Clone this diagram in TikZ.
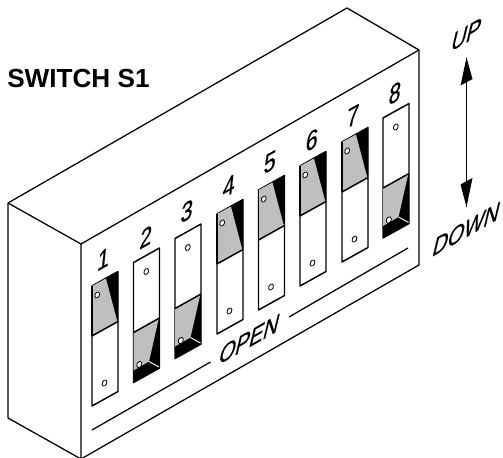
\documentclass[tikz,border=0pt]{standalone}
\usepackage{fontspec}
\setmainfont{Liberation Sans}
\newfontfamily\isofont[FakeBold=0.5]{Liberation Sans}
\tikzset{
  px/.style={x=0.75pt,y=-0.75pt},
  edge/.style={line width=0.95pt,line join=round},
  swface/.style={draw=black,line width=1.1pt,fill=white,line join=round},
  hole/.style={draw=black,line width=0.6pt,fill=white},
  isotext/.style={font=\isofont\fontsize{16.5}{16.5}\selectfont,inner sep=0pt,cm={0.95,0.54,0.3,1.25,(0,0)}},
  numtext/.style={font=\isofont\fontsize{18}{18}\selectfont,inner sep=0pt,cm={0.9,0.5,0.12,1.15,(0,0)}},
}
\definecolor{lever}{gray}{0.75}
\newcommand{\swup}[2]{
  \begin{scope}[shift={(#1,#2)}]
    \draw[swface] (0,0) -- (26,-14.5) -- (26,105.5) -- (0,120) -- cycle;
    \fill[black] (0,0) -- (26,-14.5) -- (26,35.5) -- cycle;
    \fill[lever] (0,0) -- (14,-7.5) -- (25.3,35.5) -- (0,50) -- cycle;
    \draw[line width=1.1pt] (0,50) -- (26,35.5);
    \draw[line width=1.1pt] (0,0) -- (0,50);
    \draw[hole] (5.2,9) ellipse [x radius=2.2,y radius=3.2,rotate=-25];
    \draw[hole] (12.5,97) ellipse [x radius=2.2,y radius=3.2,rotate=-25];
  \end{scope}}
\newcommand{\swdown}[2]{
  \begin{scope}[shift={(#1,#2)}]
    \draw[swface] (0,0) -- (26,-14.5) -- (26,105.5) -- (0,120) -- cycle;
    \fill[black] (26,56) -- (26,105.5) -- (0,120) -- (0,70) -- cycle;
    \fill[lever] (0,70) -- (25.3,56) -- (15.5,99) -- (0,108) -- cycle;
    \draw[line width=1.1pt] (0,70) -- (26,55.5);
    \draw[white,line width=0.7pt] (15.5,99) -- (25.5,104.5);
    \draw[hole] (12.8,9) ellipse [x radius=2.2,y radius=3.2,rotate=-25];
    \draw[hole] (5.8,102) ellipse [x radius=2.4,y radius=3.3,rotate=-25];
  \end{scope}}
\begin{document}
\begin{tikzpicture}[px]
\useasboundingbox (0,0) rectangle (503,457);
% case
\coordinate (backleft) at (8,203);
\coordinate (backtop) at (347,8);
\coordinate (frontleft) at (81,244);
\coordinate (frontright) at (419,50);
\coordinate (lowleft) at (8,418);
\coordinate (lowfront) at (81,459);
\coordinate (lowright) at (419,265);
\begin{scope}
\clip (0,0) rectangle (503,457);
\draw[edge] (frontleft) -- (backleft) -- (backtop) -- (frontright) -- (frontleft) -- (lowfront) -- (lowleft) -- (backleft);
\draw[edge] (frontright) -- (lowright) -- (lowfront);
\end{scope}
% rail under the switches
\coordinate (railA) at (92,430);
\coordinate (railB) at (210.5,362);
\coordinate (railC) at (289,317);
\coordinate (railD) at (408,248);
\draw[edge] (railA) -- (railB);
\draw[edge] (railC) -- (railD);
\node[isotext] (open) at (249.5,339) {OPEN};
% switches
\swup{92}{286}
\swdown{133.5}{262.5}
\swdown{175}{238.5}
\swup{217}{214}
\swup{258.5}{190}
\swup{300}{166}
\swup{342}{142}
\swdown{383}{118}
% numbers
\node[numtext] (n1) at (103.5,259) {1};
\node[numtext] (n2) at (146,237) {2};
\node[numtext] (n3) at (187,211) {3};
\node[numtext] (n4) at (229,186) {4};
\node[numtext] (n5) at (270,162) {5};
\node[numtext] (n6) at (312,140) {6};
\node[numtext] (n7) at (353,116) {7};
\node[numtext] (n8) at (395,93) {8};
% up/down
\node[isotext] (up) at (466.5,34.5) {UP};
\node[isotext] (down) at (466.5,229) {DOWN};
\coordinate (tipU) at (466.5,57.5);
\coordinate (tipD) at (466.5,207);
\draw[line width=1pt] (tipU) -- (tipD);
\fill (tipU) -- (472.5,79) -- (460.5,85.5) -- cycle;
\fill (tipD) -- (472.5,178) -- (460.5,184.5) -- cycle;
\node[anchor=west,inner sep=0pt,font=\fontsize{19.6}{19.6}\selectfont\bfseries] (title) at (7,78.5) {SWITCH S1};
\end{tikzpicture}
\end{document}
